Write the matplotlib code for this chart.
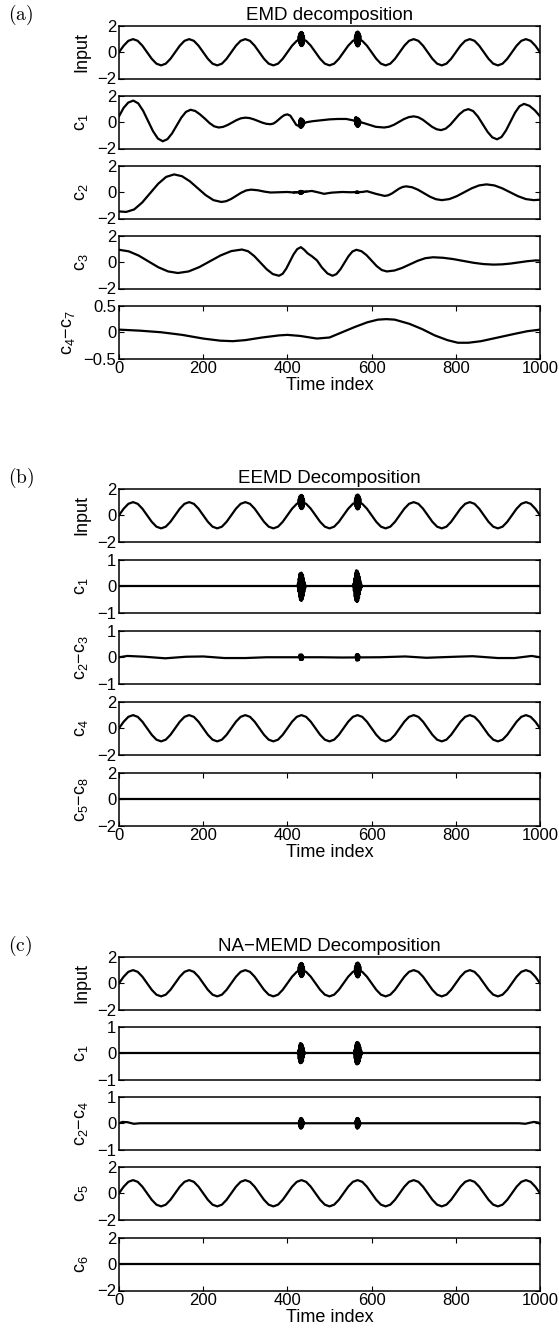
import numpy as np
import matplotlib.pyplot as plt

plt.rcParams['font.family'] = ['Liberation Sans', 'DejaVu Sans']

# ---- data ----
# input sinusoid (also EEMD c4 and NA-MEMD c5), 12 samples per period
t_sine = np.linspace(0, 1000, 91)
sine_vals = [0, .5, .87, 1, .87, .5, 0, -.5, -.87, -1, -.87, -.5,
             0, .5, .87, 1, .87, .5, 0, -.5, -.87, -1, -.87, -.5,
             0, .5, .87, 1, .87, .5, 0, -.5, -.87, -1, -.87, -.5,
             0, .5, .87, 1, .87, .5, 0, -.5, -.87, -1, -.87, -.5,
             0, .5, .87, 1, .87, .5, 0, -.5, -.87, -1, -.87, -.5,
             0, .5, .87, 1, .87, .5, 0, -.5, -.87, -1, -.87, -.5,
             0, .5, .87, 1, .87, .5, 0, -.5, -.87, -1, -.87, -.5,
             0, .5, .87, 1, .87, .5, 0]

# high frequency bursts riding on the input
burst1_t = np.arange(426, 441)
input_burst1 = [0.97, 1.25, 0.7, 1.45, 0.55, 1.52, 0.48, 1.55, 0.47, 1.52, 0.5, 1.45, 0.6, 1.25, 0.93]
burst2_t = np.arange(560, 575)
input_burst2 = [0.97, 1.3, 0.65, 1.5, 0.5, 1.55, 0.45, 1.58, 0.45, 1.55, 0.5, 1.45, 0.62, 1.28, 0.93]

# EMD
emd_c1_t = [0, 11, 22, 34, 45.7, 57.3, 69, 80.7, 92.3, 104, 115, 126, 137, 148, 159, 170,
            181, 192, 204, 215, 226, 237, 247.5, 258, 268.5, 279, 289.5, 300, 310, 320, 330,
            340, 350, 360, 366.7, 373.3, 380, 386.7, 393.3, 400, 407, 414, 421, 428, 445, 460,
            480, 500, 520, 540, 555, 580, 595, 610, 630, 641.7, 653.3, 665, 676.7, 688.3, 700,
            710.8, 721.7, 732.5, 743.3, 754.2, 765, 775.8, 786.7, 797.5, 808.3, 819.2, 830,
            841.3, 852.7, 864, 875.3, 886.7, 898, 908.7, 919.3, 930, 940.7, 951.3, 962, 975,
            988, 1000]
emd_c1 = [0.45, 1.1, 1.5, 1.65, 1.44, 0.875, 0.1, -0.675, -1.24, -1.45, -1.29, -0.85, -0.25,
          0.35, 0.79, 0.95, 0.86, 0.61, 0.275, -0.06, -0.31, -0.4, -0.35, -0.21, -0.025, 0.16,
          0.3, 0.35, 0.32, 0.225, 0.1, -0.025, -0.12, -0.15, -0.1, 0.04, 0.225, 0.41, 0.55, 0.6,
          0.5, 0.15, -0.2, -0.3, 0.0, 0.08, 0.15, 0.22, 0.25, 0.25, 0.15, -0.05, -0.2, -0.35,
          -0.4, -0.34, -0.19, 0.025, 0.24, 0.39, 0.45, 0.38, 0.19, -0.075, -0.34, -0.53, -0.6,
          -0.49, -0.2, 0.2, 0.6, 0.89, 1.0, 0.85, 0.425, -0.15, -0.725, -1.15, -1.3, -1.12,
          -0.625, 0.05, 0.725, 1.22, 1.4, 1.25, 0.9, 0.45]
emd_c1_b1_t = np.arange(428, 441)
emd_c1_b1 = [-0.3, 0.2, -0.4, 0.3, -0.42, 0.28, -0.4, 0.25, -0.35, 0.2, -0.25, 0.12, -0.05]
emd_c1_b2_t = np.arange(560, 575)
emd_c1_b2 = [0.12, 0.35, -0.2, 0.38, -0.3, 0.35, -0.35, 0.3, -0.35, 0.28, -0.3, 0.2, -0.2, 0.1, -0.02]

emd_c2_t = [0, 17, 36, 55, 74, 93, 112, 131, 149.7, 168.3, 187, 205.7, 224.3, 243, 254.8,
            266.7, 278.5, 290.3, 302.2, 314, 330, 345, 360, 380, 400, 415, 445, 458, 472, 487,
            505, 530, 550, 578, 589, 610, 631, 639.5, 648, 656.5, 665, 673.5, 682, 696.2,
            710.3, 724.5, 738.7, 752.8, 767, 784.7, 802.3, 820, 837.7, 855.3, 873, 891.7,
            910.3, 929, 947.7, 966.3, 985, 1000]
emd_c2 = [-1.46, -1.5, -1.31, -0.785, -0.07, 0.645, 1.17, 1.36, 1.22, 0.835, 0.31, -0.215,
          -0.6, -0.74, -0.68, -0.505, -0.27, -0.035, 0.14, 0.2, 0.15, 0.05, -0.02, 0.0, 0.02,
          -0.02, 0.05, 0.1, 0.0, -0.12, -0.03, 0.02, 0.0, 0.02, 0.08, -0.12, -0.28, -0.23,
          -0.1, 0.085, 0.27, 0.4, 0.45, 0.38, 0.19, -0.075, -0.34, -0.53, -0.6, -0.52, -0.3,
          0.0, 0.3, 0.52, 0.6, 0.52, 0.3, 0.0, -0.3, -0.52, -0.6, -0.57]
emd_c2_b1_t = np.arange(415, 446)
emd_c2_b1 = [-0.02, 0, 0.01, 0, -0.01, 0, 0, 0, 0, 0, 0, 0, 0, 0.08, -0.1, 0.1, -0.12, 0.1,
             -0.12, 0.1, -0.1, 0.08, -0.06, 0.04, 0.02, 0.02, 0.03, 0.03, 0.04, 0.04, 0.05]
emd_c2_b2_t = np.arange(562, 571)
emd_c2_b2 = [0, 0.05, -0.05, 0.06, -0.06, 0.05, -0.05, 0.03, 0.01]

emd_c3_t = [0, 23.3, 46.7, 70, 93.3, 116.7, 140, 165.3, 190.7, 216, 241.3, 266.7, 292, 306.7,
            321.3, 336, 350.7, 365.3, 380, 388.7, 397.3, 406, 414.7, 423.3, 432, 440, 448, 458,
            470, 482, 495, 507, 516.5, 526, 535.5, 545, 554.5, 564, 576, 588, 600, 612, 624,
            636, 654.3, 672.7, 691, 709.3, 727.7, 746, 770, 794, 818, 842, 866, 890, 910, 930,
            950, 970, 990, 1000]
emd_c3 = [0.95, 0.83, 0.51, 0.065, -0.38, -0.70, -0.82, -0.70, -0.37, 0.075, 0.52, 0.85, 0.97,
          0.84, 0.47, -0.03, -0.53, -0.90, -1.03, -0.88, -0.485, 0.06, 0.605, 1.0, 1.15, 0.95,
          0.68, 0.46, 0.15, -0.4, -0.85, -1.03, -0.9, -0.535, -0.04, 0.455, 0.82, 0.95, 0.84,
          0.54, 0.125, -0.29, -0.59, -0.7, -0.63, -0.43, -0.16, 0.11, 0.31, 0.38, 0.34, 0.24,
          0.1, -0.04, -0.14, -0.18, -0.16, -0.1, -0.01, 0.08, 0.14, 0.13]

emd_c47_t = [0, 50, 100, 150, 200, 240, 270, 300, 340, 380, 400, 430, 470, 500, 530, 560, 590,
             615, 635, 655, 690, 720, 750, 780, 805, 830, 860, 900, 940, 970, 1000]
emd_c47 = [0.05, 0.03, 0.0, -0.05, -0.12, -0.16, -0.17, -0.15, -0.1, -0.06, -0.05, -0.07,
           -0.12, -0.1, 0.0, 0.1, 0.19, 0.24, 0.25, 0.24, 0.16, 0.06, -0.06, -0.15, -0.2,
           -0.2, -0.17, -0.1, -0.03, 0.02, 0.05]

# EEMD
eemd_c1_b1_t = np.arange(424, 445)
eemd_c1_b1 = [0, 0.1, -0.2, 0.3, -0.4, 0.48, -0.52, 0.5, -0.55, 0.52, -0.55, 0.48, -0.5, 0.42,
              -0.38, 0.3, -0.22, 0.15, -0.08, 0.04, 0]
eemd_c1_b2_t = np.arange(556, 579)
eemd_c1_b2 = [0, 0.1, -0.18, 0.3, -0.4, 0.5, -0.55, 0.6, -0.58, 0.6, -0.6, 0.58, -0.55, 0.5,
              -0.45, 0.38, -0.3, 0.22, -0.15, 0.1, -0.05, 0.02, 0]

eemd_c23_t = [0, 20, 60, 110, 160, 200, 250, 300, 350, 400, 480, 530, 620, 680, 730, 800, 840,
              900, 940, 980, 1000]
eemd_c23 = [0.0, 0.05, 0.02, -0.04, 0.02, 0.03, -0.03, -0.03, 0.0, 0.0, 0.0, -0.01, 0.0, 0.03,
            -0.02, 0.02, 0.04, -0.03, -0.03, 0.05, 0.0]
eemd_c23_b1_t = np.arange(428, 439)
eemd_c23_b1 = [0, 0.1, -0.1, 0.1, -0.1, 0.1, -0.1, 0.1, -0.1, 0.05, 0]
eemd_c23_b2_t = np.arange(562, 573)
eemd_c23_b2 = [0, 0.1, -0.12, 0.12, -0.12, 0.12, -0.12, 0.1, -0.1, 0.05, 0]

# NA-MEMD
namemd_c1_b1_t = np.arange(425, 443)
namemd_c1_b1 = [0, 0.12, -0.22, 0.3, -0.35, 0.38, -0.38, 0.38, -0.37, 0.36, -0.35, 0.32,
                -0.28, 0.22, -0.15, 0.08, -0.03, 0]
namemd_c1_b2_t = np.arange(558, 579)
namemd_c1_b2 = [0, 0.12, -0.2, 0.3, -0.36, 0.4, -0.42, 0.42, -0.42, 0.42, -0.41, 0.4, -0.38,
                0.34, -0.3, 0.24, -0.18, 0.12, -0.06, 0.03, 0]

namemd_c24_t = [0, 8, 20, 35, 50, 950, 965, 985, 995, 1000]
namemd_c24 = [0.0, 0.05, 0.04, -0.02, 0.0, 0.0, -0.02, 0.05, 0.03, -0.03]
namemd_c24_b1_t = np.arange(427, 441)
namemd_c24_b1 = [0, 0.1, -0.15, 0.18, -0.2, 0.2, -0.2, 0.2, -0.18, 0.16, -0.12, 0.08, -0.04, 0]
namemd_c24_b2_t = np.arange(561, 575)
namemd_c24_b2 = [0, 0.1, -0.15, 0.18, -0.2, 0.2, -0.2, 0.2, -0.18, 0.16, -0.12, 0.08, -0.04, 0]

flat_t = [0, 1000]
flat_vals = [0, 0]

# ---- layout (pixel positions in a 559 x 1332 figure) ----
W, H = 559, 1332
ax_left, ax_w, ax_h = 119, 421, 52.5
LW = 1.6
TICK_FS, LABEL_FS, TITLE_FS = 12, 13, 13.5

fig = plt.figure(figsize=(W / 100, H / 100), dpi=100)


def make_ax(top, ylim, yticks, ylabel, last=False):
    ax = fig.add_axes([ax_left / W, 1 - (top + ax_h) / H, ax_w / W, ax_h / H])
    ax.set_xlim(0, 1000)
    ax.set_ylim(*ylim)
    ax.set_yticks(yticks)
    ax.set_yticklabels([('%g' % v).replace('-', '\u2212') for v in yticks])
    ax.tick_params(direction='in', length=3.5, width=0.8, labelsize=TICK_FS,
                   left=True, right=True, top=True, bottom=True, pad=2)
    if last:
        ax.set_xticks([0, 200, 400, 600, 800, 1000])
        ax.set_xlabel('Time index', fontsize=13, labelpad=0.5)
    else:
        ax.set_xticks([])
    for s in ax.spines.values():
        s.set_linewidth(1.1)
    ax.set_ylabel(ylabel, fontsize=LABEL_FS, labelpad=5)
    return ax


def trace(ax, t, v):
    ax.plot(t, v, color='black', lw=LW, solid_joinstyle='round')


groups = [
    ('(a)', 'EMD decomposition', [26, 96, 166, 236, 306]),
    ('(b)', 'EEMD Decomposition', [489, 560, 631, 702, 773]),
    ('(c)', 'NA\u2212MEMD Decomposition', [957, 1027, 1097, 1167, 1238]),
]

# (a) EMD
tag, title, tops = groups[0]
ax = make_ax(tops[0], (-2, 2), [-2, 0, 2], 'Input')
trace(ax, t_sine, sine_vals)
trace(ax, burst1_t, input_burst1)
trace(ax, burst2_t, input_burst2)
ax.set_title(title, fontsize=TITLE_FS, pad=4)
ax = make_ax(tops[1], (-2, 2), [-2, 0, 2], r'$\mathregular{c_1}$')
trace(ax, emd_c1_t, emd_c1)
trace(ax, emd_c1_b1_t, emd_c1_b1)
trace(ax, emd_c1_b2_t, emd_c1_b2)
ax = make_ax(tops[2], (-2, 2), [-2, 0, 2], r'$\mathregular{c_2}$')
trace(ax, emd_c2_t, emd_c2)
trace(ax, emd_c2_b1_t, emd_c2_b1)
trace(ax, emd_c2_b2_t, emd_c2_b2)
ax = make_ax(tops[3], (-2, 2), [-2, 0, 2], r'$\mathregular{c_3}$')
trace(ax, emd_c3_t, emd_c3)
ax = make_ax(tops[4], (-0.5, 0.5), [-0.5, 0, 0.5], r'$\mathregular{c_4{-}c_7}$', last=True)
trace(ax, emd_c47_t, emd_c47)

# (b) EEMD
tag, title, tops = groups[1]
ax = make_ax(tops[0], (-2, 2), [-2, 0, 2], 'Input')
trace(ax, t_sine, sine_vals)
trace(ax, burst1_t, input_burst1)
trace(ax, burst2_t, input_burst2)
ax.set_title(title, fontsize=TITLE_FS, pad=4)
ax = make_ax(tops[1], (-1, 1), [-1, 0, 1], r'$\mathregular{c_1}$')
trace(ax, flat_t, flat_vals)
trace(ax, eemd_c1_b1_t, eemd_c1_b1)
trace(ax, eemd_c1_b2_t, eemd_c1_b2)
ax = make_ax(tops[2], (-1, 1), [-1, 0, 1], r'$\mathregular{c_2{-}c_3}$')
trace(ax, eemd_c23_t, eemd_c23)
trace(ax, eemd_c23_b1_t, eemd_c23_b1)
trace(ax, eemd_c23_b2_t, eemd_c23_b2)
ax = make_ax(tops[3], (-2, 2), [-2, 0, 2], r'$\mathregular{c_4}$')
trace(ax, t_sine, sine_vals)
ax = make_ax(tops[4], (-2, 2), [-2, 0, 2], r'$\mathregular{c_5{-}c_8}$', last=True)
trace(ax, flat_t, flat_vals)

# (c) NA-MEMD
tag, title, tops = groups[2]
ax = make_ax(tops[0], (-2, 2), [-2, 0, 2], 'Input')
trace(ax, t_sine, sine_vals)
trace(ax, burst1_t, input_burst1)
trace(ax, burst2_t, input_burst2)
ax.set_title(title, fontsize=TITLE_FS, pad=4)
ax = make_ax(tops[1], (-1, 1), [-1, 0, 1], r'$\mathregular{c_1}$')
trace(ax, flat_t, flat_vals)
trace(ax, namemd_c1_b1_t, namemd_c1_b1)
trace(ax, namemd_c1_b2_t, namemd_c1_b2)
ax = make_ax(tops[2], (-1, 1), [-1, 0, 1], r'$\mathregular{c_2{-}c_4}$')
trace(ax, namemd_c24_t, namemd_c24)
trace(ax, namemd_c24_b1_t, namemd_c24_b1)
trace(ax, namemd_c24_b2_t, namemd_c24_b2)
ax = make_ax(tops[3], (-2, 2), [-2, 0, 2], r'$\mathregular{c_5}$')
trace(ax, t_sine, sine_vals)
ax = make_ax(tops[4], (-2, 2), [-2, 0, 2], r'$\mathregular{c_6}$', last=True)
trace(ax, flat_t, flat_vals)

# panel tags in a serif (LaTeX-like) face
for tag, title, tops in groups:
    fig.text(8 / W, 1 - (tops[0] - 11) / H, r'$\mathrm{%s}$' % tag, fontsize=14,
             math_fontfamily='cm', va='center', ha='left')

fig.savefig('out.png', dpi=100)
